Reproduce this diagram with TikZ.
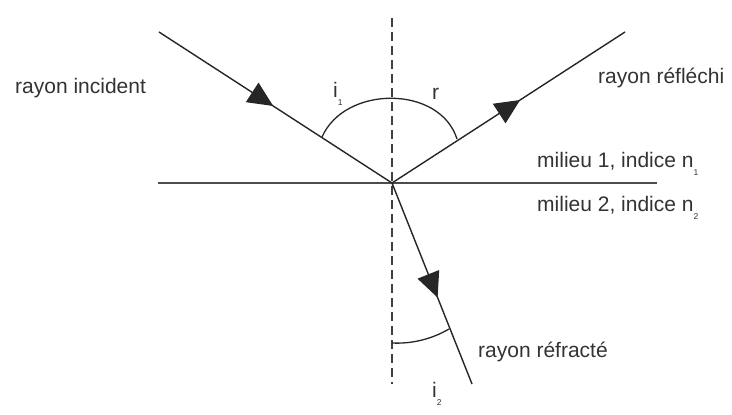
\documentclass[tikz,border=0pt]{standalone}
\usepackage{fontspec}
\setmainfont{Liberation Sans}
\usetikzlibrary{arrows.meta,decorations.markings}
\newcommand\lsub[1]{\raisebox{-8pt}{\fontsize{8.5}{8.5}\selectfont #1}}
\begin{document}
\begin{tikzpicture}[x=1pt,y=-1pt,
  ray/.style={line width=1.4pt, draw=black!85},
  lbl/.style={anchor=base west, inner sep=0pt, font=\fontsize{21}{24}\selectfont, text=black!80},
  tri/.style={postaction={decorate},decoration={markings, mark=at position #1 with {\arrow{Triangle[length=25pt,width=23pt]}}}}
]
\fill[white] (0,0) rectangle (732,415);
\useasboundingbox (0,0) rectangle (732,415);
% points
\coordinate (O) at (392,183);
\coordinate (A) at (159,32);
\coordinate (B) at (625,32);
\coordinate (C) at (472,384);
\coordinate (L) at (158,183);
\coordinate (R) at (657,183);
\coordinate (T) at (392,18);
\coordinate (D) at (392,384);
% normal and interface
\draw[line width=1.5pt, draw=black!75, dash pattern=on 8.5pt off 5.5pt] (T) -- (D);
\draw[line width=1.5pt, draw=black!70] (L) -- (R);
% rays
\draw[ray, tri=0.49] (A) -- (O);
\draw[ray, tri=0.55] (O) -- (B);
\draw[ray, tri=0.57] (O) -- (C);
% angle arcs
\draw[line width=1.3pt, draw=black!85] (322,137) .. controls (345,85) and (440,85) .. (457,139);
\draw[line width=1.3pt, draw=black!85] (392,343) .. controls (412,344) and (432,339) .. (449,329);
% labels
\node[lbl] (inc) at (15,93) {rayon incident};
\node[lbl] (refl) at (598,83) {rayon réfléchi};
\node[lbl] (m1) at (537,167) {milieu 1, indice n\lsub{1}};
\node[lbl] (m2) at (537,211) {milieu 2, indice n\lsub{2}};
\node[lbl] (refr) at (478,357) {rayon réfracté};
\node[lbl] (i1) at (333,97) {i\lsub{1}};
\node[lbl] (r) at (432,99) {r};
\node[lbl] (i2) at (432,397) {i\lsub{2}};
\end{tikzpicture}
\end{document}
